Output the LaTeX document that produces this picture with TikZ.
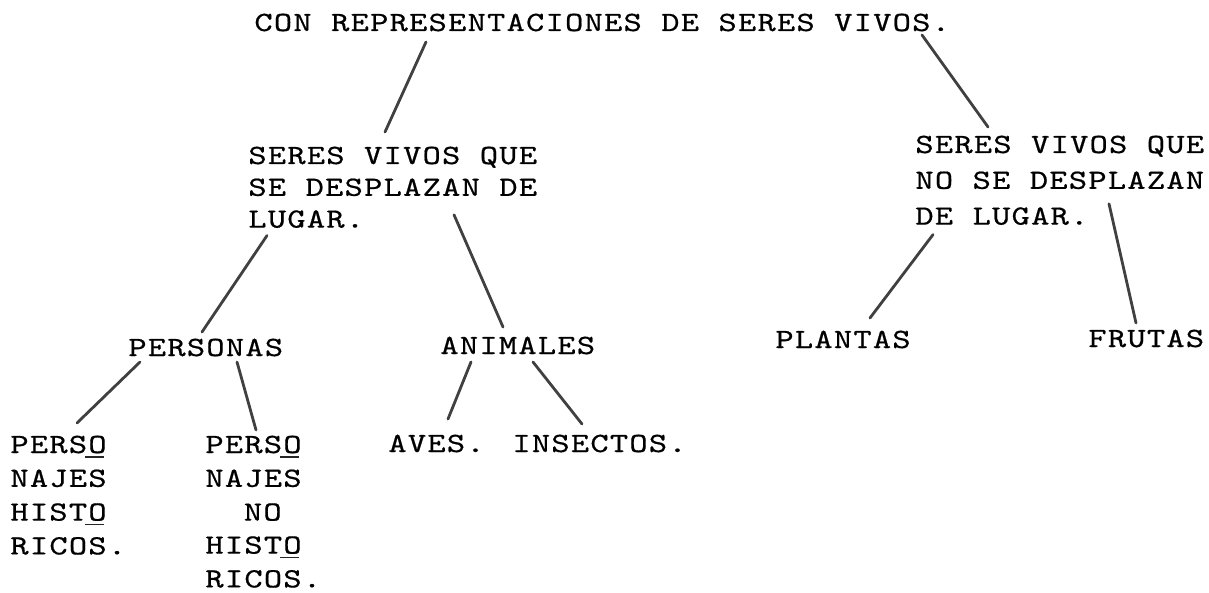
\documentclass[tikz,border=0pt]{standalone}
\usepackage{fontspec}
\setmonofont{lmmono10-regular}[Extension=.otf, FakeStretch=1.25, LetterSpace=4.5, FakeBold=0.6]
\usepackage{tikz}
\usetikzlibrary{positioning, calc}

\newcommand{\maquina}{\ttfamily\fontsize{13.9}{15}\selectfont}
\tikzset{
  texto/.style={inner sep=0pt, text height=12pt, text depth=2pt, font=\maquina},
  rama/.style={line width=1.4pt, draw=black!75, line cap=round},
  raya/.style={line width=0.8pt, draw=black!85}
}

\begin{document}
\begin{tikzpicture}[x=0.5pt, y=-0.5pt]
\useasboundingbox (0,0) rectangle (1209,593);
% titulo
\node(titulo)[texto, anchor=base west] at (254,31) {CON REPRESENTACIONES DE SERES VIVOS.};

% seres vivos que se desplazan
\node(vivL1)[texto, anchor=base west] at (248,164) {SERES VIVOS QUE};
\node(vivL2)[texto, below right = 1.5pt and 0pt of vivL1.south west] {SE DESPLAZAN DE};
\node(vivL3)[texto, below right = 1.5pt and 0pt of vivL2.south west] {LUGAR.};

% seres vivos que no se desplazan
\node(vivR1)[texto, anchor=base west] at (915,153) {SERES VIVOS QUE};
\node(vivR2)[texto, below right = 3.5pt and 0pt of vivR1.south west] {NO SE DESPLAZAN};
\node(vivR3)[texto, below right = 3.5pt and 0pt of vivR2.south west] {DE LUGAR.};

% tercer nivel
\node(personas)[texto, anchor=base west] at (128,356) {PERSONAS};
\node(animales)[texto, anchor=base west] at (440,354) {ANIMALES};
\node(plantas)[texto, anchor=base west] at (775,348) {PLANTAS};
\node(frutas)[texto, anchor=base west] at (1088,347) {FRUTAS};

% cuarto nivel
\node(aves)[texto, anchor=base west] at (388,452) {AVES.};
\node(insectos)[texto, anchor=base west] at (512,452) {INSECTOS.};

\node(pA1)[texto, anchor=base west] at (10,453) {PERSO};
\node(pA2)[texto, below right = 2.5pt and 0pt of pA1.south west] {NAJES};
\node(pA3)[texto, below right = 2.5pt and 0pt of pA2.south west] {HISTO};
\node(pA4)[texto, below right = 2.5pt and 0pt of pA3.south west] {RICOS.};

\node(pB1)[texto, anchor=base west] at (205,453) {PERSO};
\node(pB2)[texto, below right = 2.5pt and 0pt of pB1.south west] {NAJES};
\node(pB3)[texto, below right = 2.5pt and 19.25pt of pB2.south west] {NO};
\node(pB4)[texto, below right = 2.5pt and 0pt of pB2.south west, yshift=-16.5pt] {HISTO};
\node(pB5)[texto, below right = 2.5pt and 0pt of pB4.south west] {RICOS.};

% guiones bajo la O
\foreach \n in {pA1,pA3,pB1,pB4}
  \draw[raya] ($(\n.base west)+(75,4)$) -- ++(19,0);

% ramas
\draw[rama] ($(titulo.base west)+(172,11)$) -- ($(vivL1.base west)+(137,-32)$);
\draw[rama] ($(titulo.base west)+(668,4)$) -- ($(vivR1.base west)+(73,-26)$);
\draw[rama] ($(vivL3.base west)+(19,8)$) -- ($(personas.base west)+(74,-24)$);
\draw[rama] ($(vivL2.base west)+(206,19)$) -- ($(animales.base west)+(63,-27)$);
\draw[rama] ($(vivR3.base west)+(18,10)$) -- ($(plantas.base west)+(95,-30)$);
\draw[rama] ($(vivR2.base west)+(194,15)$) -- ($(frutas.base west)+(48,-24)$);
\draw[rama] ($(personas.base west)+(12,6)$) -- ($(pA1.base west)+(67,-30)$);
\draw[rama] ($(personas.base west)+(109,6)$) -- ($(pB1.base west)+(51,-23)$);
\draw[rama] ($(animales.base west)+(31,8)$) -- ($(aves.base west)+(60,-33)$);
\draw[rama] ($(animales.base west)+(93,8)$) -- ($(insectos.base west)+(70,-28)$);
\end{tikzpicture}
\end{document}
